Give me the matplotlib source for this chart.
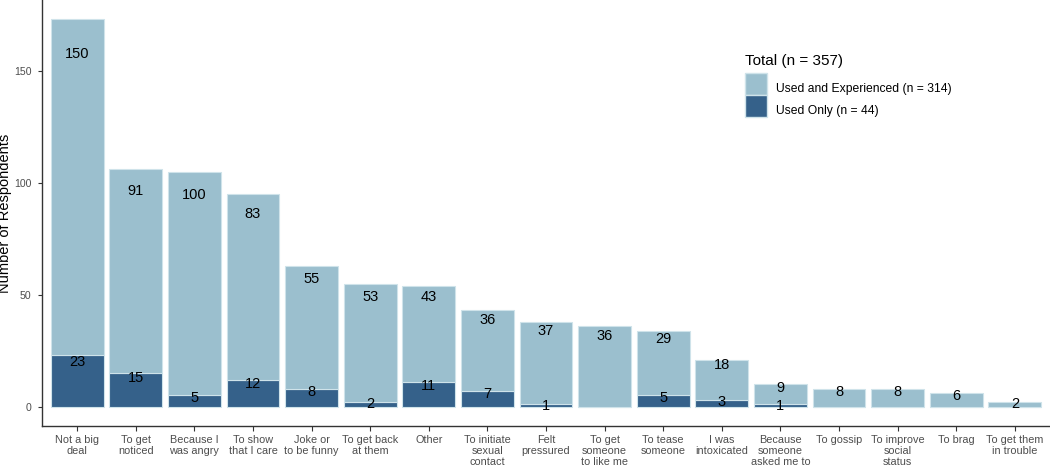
import matplotlib
matplotlib.use("Agg")
import matplotlib.pyplot as plt
from matplotlib.patches import Patch
import numpy as np

plt.rcParams['font.family'] = ['Liberation Sans', 'DejaVu Sans']

categories = ["Not a big\ndeal", "To get\nnoticed", "Because I\nwas angry", "To show\nthat I care",
              "Joke or\nto be funny", "To get back\nat them", "Other", "To initiate\nsexual\ncontact",
              "Felt\npressured", "To get\nsomeone\nto like me", "To tease\nsomeone", "I was\nintoxicated",
              "Because\nsomeone\nasked me to", "To gossip", "To improve\nsocial\nstatus", "To brag",
              "To get them\nin trouble"]
used_only = [23, 15, 5, 12, 8, 2, 11, 7, 1, 0, 5, 3, 1, 0, 0, 0, 0]
used_and_exp = [150, 91, 100, 83, 55, 53, 43, 36, 37, 36, 29, 18, 9, 8, 8, 6, 2]
legend_title = "Total (n = 357)"
label_exp = "Used and Experienced (n = 314)"
label_only = "Used Only (n = 44)"

light = "#9bbfce"
dark = "#35618a"
edge = "#cfe3ea"

fig = plt.figure(figsize=(10.5, 4.68), dpi=100)
ax = fig.add_axes([42/1050, 42/468, 1 - 42/1050, 1 - 42/468])

x = np.arange(1, len(categories) + 1)
uo = np.array(used_only)
ue = np.array(used_and_exp)
ax.bar(x, uo, width=0.9, color=dark, edgecolor=edge, linewidth=0.8, zorder=2)
ax.bar(x, ue, width=0.9, bottom=uo, color=light, edgecolor=edge, linewidth=0.8, zorder=2)

for xi, a, b in zip(x, uo, ue):
    if a > 0:
        ax.text(xi, 0.9 * a, str(a), ha='center', va='center_baseline', fontsize=10.5, color='black', zorder=3)
    if b > 0:
        ax.text(xi, a + 0.9 * b, str(b), ha='center', va='center_baseline', fontsize=10.5, color='black', zorder=3)

total = uo + ue
ymax = total.max()
ax.set_ylim(-0.05 * ymax, ymax * 1.05)
ax.set_xlim(0.4, len(categories) + 0.6)
ax.set_yticks([0, 50, 100, 150])
ax.set_xticks(x)
ax.set_xticklabels(categories, fontsize=7.8, color='#4d4d4d', linespacing=1.15)
ax.tick_params(axis='y', labelsize=7.6, labelcolor='#4d4d4d', color='#333333', length=3, width=0.8, pad=4.5)
ax.tick_params(axis='x', color='#333333', length=3.5, width=0.8, pad=3)
ax.set_ylabel("Number of Respondents", fontsize=10.5, color='black')
ax.yaxis.set_label_coords(-30/1008, 0.5)
for s in ['top', 'right']:
    ax.spines[s].set_visible(False)
for s in ['left', 'bottom']:
    ax.spines[s].set_color('#333333')
    ax.spines[s].set_linewidth(1.0)

fig.text(745/1050, 1 - 61/468, legend_title, fontsize=11, ha='left', va='center', color='black')
handles = [Patch(facecolor=light, edgecolor=edge, label=label_exp),
           Patch(facecolor=dark, edgecolor=edge, label=label_only)]
leg = ax.legend(handles=handles, loc='upper left',
                bbox_to_anchor=(745/1050, 1 - 73/468), bbox_transform=fig.transFigure,
                frameon=False, fontsize=8.75, handlelength=1.8, handleheight=2.4,
                labelspacing=0.0, handletextpad=0.75, borderaxespad=0, borderpad=0)
for t in leg.get_texts():
    t.set_va('center_baseline')

fig.savefig("out.png", dpi=100)
